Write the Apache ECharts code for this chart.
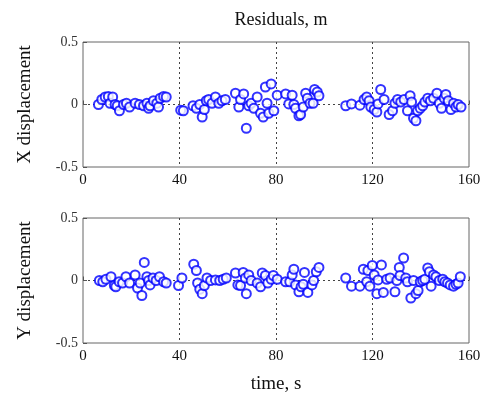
<!DOCTYPE html>
<html>
<head>
<meta charset="utf-8">
<script src="https://cdn.jsdelivr.net/npm/echarts@6/dist/echarts.min.js"></script>
<style>
  html, body { margin: 0; padding: 0; background: #fff; }
  #chart { width: 486px; height: 396px; }
</style>
</head>
<body>
<div id="chart"></div>
<script>
// [time s, residual m]
const residX = [
  [6.4, 0], [7.8, 0.04], [9.2, 0.06], [10.5, 0.065], [11.2, 0.01], [12.3, 0.06], [13.3, 0], [14.2, -0.01],
  [15.1, -0.05], [16.8, 0], [18, 0.01], [19.3, -0.02], [21.6, 0.01], [23.4, 0], [25.1, -0.01], [26.5, 0.01],
  [27.2, -0.03], [27.8, -0.01], [29.2, 0.03], [30.6, 0.01], [31.3, -0.02], [32, 0.05], [33.4, 0.065], [34.5, 0.06],
  [40.5, -0.045], [41.6, -0.05],
  [45.6, -0.01], [47, -0.03], [48.4, 0], [49.4, -0.1], [50.3, -0.04], [51.1, 0.03], [52.1, 0.04], [53.5, 0.01],
  [54.9, 0.06], [56.3, 0.01], [57.6, 0.03], [59, 0.04], [63.2, 0.09], [64.6, -0.02], [65.3, 0.04], [66.6, 0.085],
  [67.7, -0.19], [68.7, -0.01], [69.7, 0.01], [70.8, -0.03], [72.2, 0.06], [73.6, -0.07], [74.7, -0.1], [75.6, 0.14],
  [76.3, 0.01], [77, -0.07], [78, 0.165], [79.1, -0.05], [80.5, 0.075],
  [84, 0.085], [85.3, 0.005], [86.7, 0.075], [87.4, 0], [88.1, -0.03], [89.5, -0.09], [90.2, -0.08], [91.3, -0.02],
  [92.3, 0.09], [93, 0.05], [94.1, 0.01], [95.4, 0.01], [96, 0.12], [97.1, 0.1], [97.8, 0.07],
  [108.9, -0.01], [111.3, 0.005], [114.8, -0.005], [116.5, 0.04], [117.6, 0.06], [118.6, 0.03], [119.3, -0.02],
  [120.7, -0.04], [121.8, -0.06], [122.3, 0.005], [123.4, 0.12], [124.8, 0.04], [126.9, -0.08], [128.3, -0.05],
  [129.3, 0.01], [130.4, 0.04], [131.7, 0.02], [133.1, 0.04], [134.5, -0.05], [135.6, 0.07], [136.2, 0.02],
  [137, -0.11], [138, -0.13], [138.7, -0.05], [139.8, -0.03], [140.8, -0.01], [141.7, 0.02], [142.9, 0.05],
  [144, 0.03], [145.3, 0.05], [146.7, 0.09], [147.7, 0.01], [148.6, -0.03], [149.7, 0.05], [150.4, 0.08],
  [151.4, 0.03], [152.5, -0.04], [153.6, 0.01], [154.6, -0.02], [155.5, 0], [156.7, -0.02]
];

const residY = [
  [6.8, 0], [8.2, -0.01], [9.5, 0.01], [11.6, 0.03], [13, -0.04], [13.6, -0.05], [15, -0.01], [16.4, -0.02],
  [17.8, 0.03], [19.3, -0.02], [21.6, 0.045], [22.6, -0.06], [23.7, -0.02], [24.4, -0.12], [25.4, 0.145],
  [26.5, 0.03], [27.2, 0], [27.8, -0.035], [29, 0.02], [30.3, 0], [31.7, 0.03], [33.4, -0.01], [34.5, -0.02],
  [39.6, -0.04], [41, 0.02],
  [45.9, 0.13], [47, 0.08], [47.5, -0.02], [48.4, -0.07], [49.4, -0.105], [50.3, -0.04], [51.4, 0.02], [52.9, 0],
  [54.9, 0.005], [56.7, 0], [58.1, 0.01], [59.4, 0.02], [63.2, 0.06], [64.2, -0.035], [65.3, -0.04], [66.4, 0.065],
  [67.3, 0.02], [67.7, -0.105], [68.7, 0.045], [69.7, 0], [72.2, -0.02], [73.6, -0.05], [74.3, 0.06], [75.6, 0.04],
  [76.6, -0.02], [78, 0.01], [78.9, 0.04], [80.5, 0.01],
  [84, -0.01], [85.7, -0.01], [86.7, 0.045], [87.4, 0.09], [88.1, -0.035], [89.5, -0.09], [90.4, -0.05],
  [91.3, -0.03], [91.8, 0.065], [93.2, -0.095], [94.9, -0.035], [95.6, 0], [96.7, 0.07], [97.8, 0.105],
  [108.9, 0.02], [111.3, -0.045], [114.8, -0.045], [116.2, 0.09], [117.6, -0.01], [118.1, 0.08], [118.9, -0.045],
  [119.9, 0.12], [120.7, 0.045], [121.8, -0.105], [122.3, 0.005], [123.7, 0.125], [124.5, -0.095], [125.9, 0.01],
  [127.3, 0.02], [129.3, -0.09], [130.1, 0], [131.1, 0.105], [131.4, 0.04], [132.9, 0.18], [133.8, 0.02],
  [134.5, -0.01], [135.9, -0.14], [137, 0], [138, -0.105], [138.9, -0.08], [139.8, -0.01], [140.8, 0],
  [141.7, 0.01], [142.9, 0.1], [143.6, 0.07], [144.3, -0.045], [145.3, 0.045], [146.3, 0.03], [147.7, 0],
  [149.1, 0.01], [150, -0.01], [151.1, -0.02], [152.2, -0.035], [153.6, -0.045], [154.6, -0.03],
  [155.5, -0.02], [156.4, 0.03]
];

const panelNames = ['X displacement', 'Y displacement'];

const serif = '"Liberation Serif", "DejaVu Serif", serif';
const dotted = { color: '#444', width: 1, type: [2, 3] };

function makeX(idx) {
  return {
    gridIndex: idx, type: 'value', min: 0, max: 160, interval: 40,
    axisLine: { show: false },
    axisTick: { inside: true, length: 4, lineStyle: { color: '#555' } },
    axisLabel: { fontFamily: serif, fontSize: 15, color: '#111', margin: 6 },
    splitLine: { show: true, showMinLine: false, showMaxLine: false, lineStyle: dotted },
    name: idx === 1 ? 'time, s' : '',
    nameLocation: 'middle', nameGap: 32,
    nameTextStyle: { fontFamily: serif, fontSize: 19, color: '#111' }
  };
}

function makeY(idx) {
  return {
    gridIndex: idx, type: 'value', min: -0.5, max: 0.5, interval: 0.5,
    axisLine: { show: false },
    axisTick: { inside: true, length: 4, lineStyle: { color: '#555' } },
    axisLabel: { fontFamily: serif, fontSize: 14, color: '#333', margin: 5 },
    splitLine: { show: true, showMinLine: false, showMaxLine: false, lineStyle: dotted },
    name: panelNames[idx], nameLocation: 'middle', nameGap: 48,
    nameTextStyle: { fontFamily: serif, fontSize: 19, color: '#111' }
  };
}

function makeScatter(idx, data) {
  return {
    type: 'scatter', xAxisIndex: idx, yAxisIndex: idx,
    symbol: 'emptyCircle', symbolSize: 9,
    itemStyle: { color: '#0000ff', borderColor: '#0000ff', borderWidth: 1.3 },
    data: data
  };
}

const chart = echarts.init(document.getElementById('chart'), null, { renderer: 'canvas' });
chart.setOption({
  animation: false,
  backgroundColor: '#fff',
  title: {
    text: 'Residuals, m', left: 276, top: 6, textAlign: 'center',
    textStyle: { fontFamily: serif, fontSize: 18, fontWeight: 'normal', color: '#111' }
  },
  grid: [
    { left: 83, right: 17, top: 42, height: 125, show: true, borderColor: '#666', borderWidth: 1 },
    { left: 83, right: 17, top: 218, height: 125, show: true, borderColor: '#666', borderWidth: 1 }
  ],
  xAxis: [makeX(0), makeX(1)],
  yAxis: [makeY(0), makeY(1)],
  series: [makeScatter(0, residX), makeScatter(1, residY)]
});
</script>
</body>
</html>
